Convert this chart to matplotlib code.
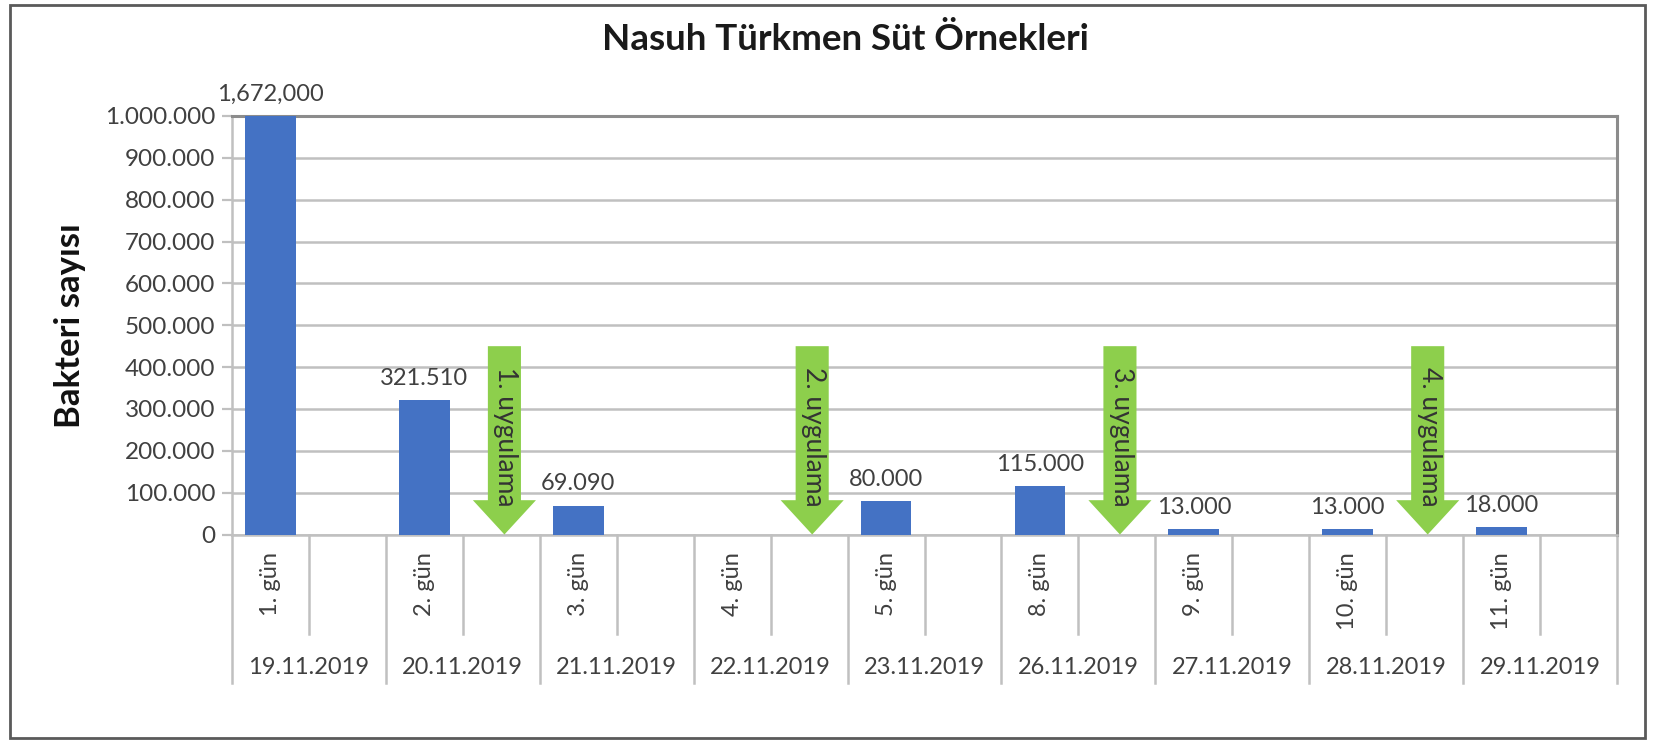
import matplotlib
matplotlib.use('Agg')
import matplotlib.pyplot as plt
from matplotlib.patches import FancyArrow, Rectangle
from matplotlib.ticker import FuncFormatter
import numpy as np

plt.rcParams['font.family'] = ['Lato', 'DejaVu Sans']

# data
dates = ['19.11.2019', '20.11.2019', '21.11.2019', '22.11.2019', '23.11.2019',
         '26.11.2019', '27.11.2019', '28.11.2019', '29.11.2019']
days = ['1. gün', '2. gün', '3. gün', '4. gün', '5. gün',
        '8. gün', '9. gün', '10. gün', '11. gün']
values = [1672000, 321510, 69090, np.nan, 80000, 115000, 13000, 13000, 18000]
value_labels = ['1,672,000', '321.510', '69.090', '', '80.000',
                '115.000', '13.000', '13.000', '18.000']
# applications: drawn in the empty second slot of these dates
app_dates = [1, 3, 5, 7]
app_labels = ['1. uygulama', '2. uygulama', '3. uygulama', '4. uygulama']
app_top = 450000

ymax = 1000000
bar_color = '#4472C4'
green = '#8DCF4C'
grid_c = '#c0c0c0'
border_c = '#8c8c8c'
txt_c = '#404040'

fig = plt.figure(figsize=(16.61, 7.43), dpi=100)
ax = fig.add_axes([0.1397, 0.2806, 0.8338, 0.5633])

n = len(dates)
x_bar = np.arange(n) * 2
ax.bar(x_bar, values, width=0.66, color=bar_color, zorder=3)
ax.set_xlim(-0.5, 2 * n - 0.5)
ax.set_ylim(0, ymax)

# data labels
for x, v, lbl in zip(x_bar, values, value_labels):
    if np.isnan(v):
        continue
    ax.annotate(lbl, (x, min(v, ymax)), xytext=(0, 8), textcoords='offset points',
                ha='center', va='bottom', fontsize=17, color=txt_c,
                annotation_clip=False)

# arrows
for d, lbl in zip(app_dates, app_labels):
    xa = 2 * d + 1 + 0.04
    ax.add_patch(FancyArrow(xa, app_top, 0, -app_top, width=0.43, head_width=0.82,
                            head_length=82000, length_includes_head=True,
                            color=green, lw=0, zorder=4))
    ax.text(xa + 0.02, app_top - 50000, lbl, rotation=-90, ha='center', va='top',
            fontsize=19, color='#333333', zorder=5)

# y axis
ax.set_yticks(np.arange(0, ymax + 1, 100000))
ax.yaxis.set_major_formatter(FuncFormatter(lambda v, p: f'{int(v):,}'.replace(',', '.')))
ax.tick_params(axis='y', labelsize=17.5, labelcolor=txt_c, length=7, width=1.6,
               color=grid_c, pad=5)
ax.grid(axis='y', color=grid_c, lw=1.8, zorder=0)
ax.set_ylabel('Bakteri sayısı', fontsize=25, fontweight='bold', color='#111111',
              labelpad=14)

# multi-level category axis drawn by hand
ax.set_xticks([])
trans = ax.get_xaxis_transform()
for k in range(2 * n + 1):
    xb = k - 0.5
    y_end = -0.355 if k % 2 == 0 else -0.238
    ax.plot([xb, xb], [0, y_end], transform=trans, color=grid_c, lw=1.8,
            clip_on=False)
for x, dy in zip(x_bar, days):
    ax.text(x, -0.042, dy, transform=trans, rotation=90, ha='center', va='top',
            fontsize=17, color=txt_c)
for x, dt in zip(x_bar, dates):
    ax.text(x + 0.5, -0.317, dt, transform=trans, ha='center', va='center',
            fontsize=17, color=txt_c)

for s in ['left', 'bottom']:
    ax.spines[s].set_color(grid_c)
    ax.spines[s].set_linewidth(1.8)
for s in ['right', 'top']:
    ax.spines[s].set_color(border_c)
    ax.spines[s].set_linewidth(2.2)

fig.text(0.509, 0.947, 'Nasuh Türkmen Süt Örnekleri', ha='center', va='center',
         fontsize=26.5, fontweight='bold', color='#1a1a1a')

fig.patches.append(Rectangle((10 / 1661, 5 / 743), 1635 / 1661, 733 / 743,
                             transform=fig.transFigure, fill=False,
                             ec='#5a5a5a', lw=2))

fig.savefig('out.png', dpi=100)
